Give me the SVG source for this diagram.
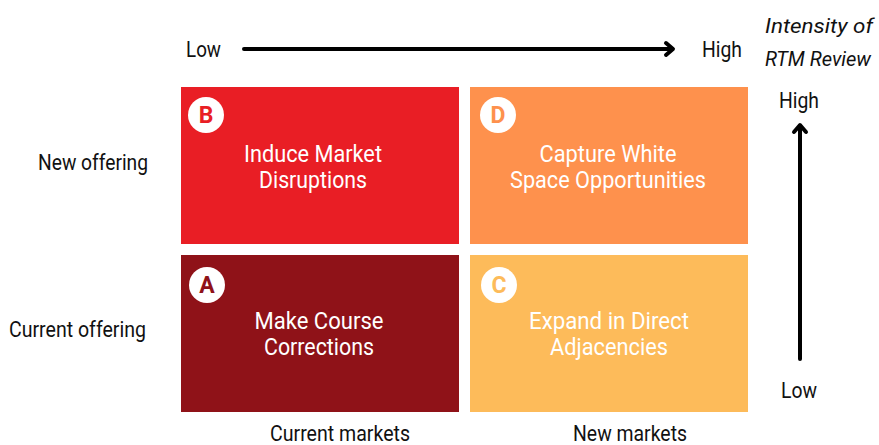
<svg xmlns="http://www.w3.org/2000/svg" width="879" height="445" viewBox="0 0 879 445">
<style>
.lbl{font-family:Roboto,"Liberation Sans",sans-serif;font-size:22px;fill:#111;}
.it{font-style:italic;font-size:21px;}
.box{font-family:Roboto,"Liberation Sans",sans-serif;font-size:24px;fill:#fff;text-anchor:middle;}
.let{font-family:Roboto,"Liberation Sans",sans-serif;font-size:23px;font-weight:bold;text-anchor:middle;}
.ax{stroke:#000;stroke-width:4;fill:none;stroke-linecap:round;stroke-linejoin:round;}
</style>
<rect width="879" height="445" fill="#fff"/>
<g id="connectors">
<line class="ax" x1="244" y1="49" x2="672" y2="49"/>
<polyline class="ax" points="666,43 673,49 666,55"/>
<line class="ax" x1="800" y1="126" x2="800" y2="359"/>
<polyline class="ax" points="794,132 800,125 806,132"/>
</g>
<g id="axis-labels">
<text class="lbl" x="186" y="57" textLength="35" lengthAdjust="spacingAndGlyphs">Low</text>
<text class="lbl" x="702" y="57" textLength="40" lengthAdjust="spacingAndGlyphs">High</text>
<text class="lbl it" x="765" y="33" textLength="108" lengthAdjust="spacingAndGlyphs">Intensity of</text>
<text class="lbl it" x="765" y="66" textLength="106" lengthAdjust="spacingAndGlyphs">RTM Review</text>
<text class="lbl" x="779" y="108" textLength="40" lengthAdjust="spacingAndGlyphs">High</text>
<text class="lbl" x="781" y="398" textLength="36" lengthAdjust="spacingAndGlyphs">Low</text>
<text class="lbl" x="38" y="170" textLength="110" lengthAdjust="spacingAndGlyphs">New offering</text>
<text class="lbl" x="9" y="337" textLength="137" lengthAdjust="spacingAndGlyphs">Current offering</text>
<text class="lbl" x="270" y="441" textLength="140" lengthAdjust="spacingAndGlyphs">Current markets</text>
<text class="lbl" x="573" y="441" textLength="114" lengthAdjust="spacingAndGlyphs">New markets</text>
</g>
<g id="node-B">
<rect x="181" y="87" width="278" height="157" fill="#E91E25"/>
<circle cx="206" cy="115" r="18" fill="#fff"/>
<text class="let" x="206" y="123" fill="#E91E25">B</text>
<text class="box" x="313" y="162" textLength="138" lengthAdjust="spacingAndGlyphs">Induce Market</text>
<text class="box" x="313" y="188" textLength="108" lengthAdjust="spacingAndGlyphs">Disruptions</text>
</g>
<g id="node-D">
<rect x="470" y="87" width="278" height="157" fill="#FE914D"/>
<circle cx="498" cy="115" r="18" fill="#fff"/>
<text class="let" x="498" y="123" fill="#FE914D">D</text>
<text class="box" x="608" y="162" textLength="137" lengthAdjust="spacingAndGlyphs">Capture White</text>
<text class="box" x="608" y="188" textLength="196" lengthAdjust="spacingAndGlyphs">Space Opportunities</text>
</g>
<g id="node-A">
<rect x="181" y="255" width="278" height="157" fill="#8F1218"/>
<circle cx="207" cy="285" r="18" fill="#fff"/>
<text class="let" x="207" y="293" fill="#8F1218">A</text>
<text class="box" x="319" y="329" textLength="129" lengthAdjust="spacingAndGlyphs">Make Course</text>
<text class="box" x="319" y="355" textLength="110" lengthAdjust="spacingAndGlyphs">Corrections</text>
</g>
<g id="node-C">
<rect x="470" y="255" width="278" height="157" fill="#FDBB5A"/>
<circle cx="499" cy="285" r="18" fill="#fff"/>
<text class="let" x="499" y="293" fill="#FDBB5A">C</text>
<text class="box" x="609" y="329" textLength="160" lengthAdjust="spacingAndGlyphs">Expand in Direct</text>
<text class="box" x="609" y="355" textLength="118" lengthAdjust="spacingAndGlyphs">Adjacencies</text>
</g>
</svg>
